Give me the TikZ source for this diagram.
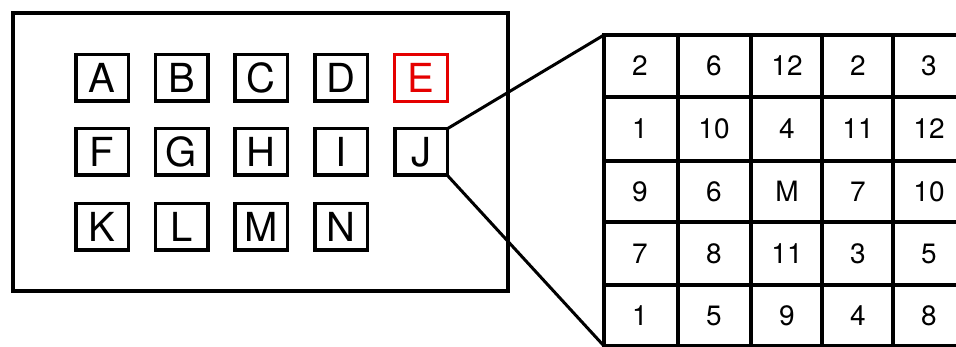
\documentclass[tikz,border=0pt]{standalone}
\usepackage{fontspec}
\setmainfont{TeX Gyre Heros}
\begin{document}
\begin{tikzpicture}[x=1pt,y=-1pt,
  keybox/.style={draw=black,line width=3.5pt,minimum width=52.5pt,minimum height=46.5pt,inner sep=0pt,outer sep=0pt,font=\fontsize{40}{40}\selectfont},
  redbox/.style={keybox,draw=red!90!black,text=red!90!black,line width=3pt},
  cell/.style={draw=black,line width=3.8pt,inner sep=0pt,outer sep=0pt},
  num/.style={inner sep=0pt,font=\fontsize{28}{28}\selectfont},
  link/.style={line width=3pt}]
\useasboundingbox (0,0) rectangle (956,347);
\begin{scope}
\clip (0,0) rectangle (956,347);
% outer frame
\draw[line width=4pt] (13,13) rectangle (508,291);
% key boxes
\foreach \t/\x/\y in {A/102/78,B/181.5/78,C/261/78,D/341/78,
                      F/102/152,G/181.5/152,H/261/152,I/341/152,J/421/152,
                      K/102/227,L/181.5/227,M/261/227,N/341/227}
  \node[keybox] (k\t) at (\x,\y) {\t};
\node[redbox] (kE) at (421,78) {E};
% grid
\def\xs{{604,678,751,822,893,966}}
\def\ys{{35,97,161,222,285,346}}
\foreach \r/\row in {1/{2,6,12,2,3},2/{1,10,4,11,12},3/{9,6,M,7,10},4/{7,8,11,3,5},5/{1,5,9,4,8}}{
  \foreach \v [count=\c] in \row {
    \pgfmathsetmacro{\xa}{\xs[\c-1]}
    \pgfmathsetmacro{\xb}{\xs[\c]}
    \pgfmathsetmacro{\ya}{\ys[\r-1]}
    \pgfmathsetmacro{\yb}{\ys[\r]}
    \node[cell,minimum width={\xb-\xa},minimum height={\yb-\ya}] (g\r-\c) at ({(\xa+\xb)/2},{(\ya+\yb)/2}) {};
    \node[num] (t\r-\c) at ({\xs[\c-1]+36},{(\ya+\yb)/2}) {\v};
  }
}
% connectors
\draw[link] (kJ.north east) -- (g1-1.north west);
\draw[link] (kJ.south east) -- (g5-1.south west);
\end{scope}
\end{tikzpicture}
\end{document}
